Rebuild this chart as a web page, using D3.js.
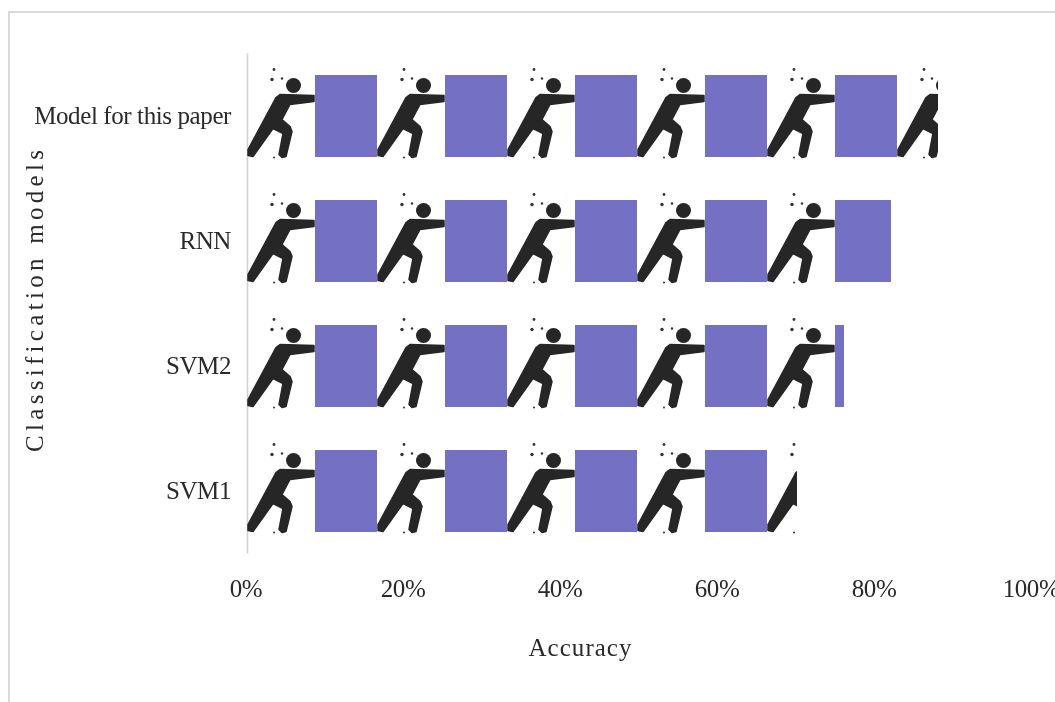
<!DOCTYPE html>
<html>
<head>
<meta charset="utf-8">
<script src="https://cdn.jsdelivr.net/npm/d3@7"></script>
<style>
  html, body { margin: 0; padding: 0; background: #fff; overflow: hidden; }
  svg { display: block; }
  text { font-family: "Liberation Serif", serif; fill: #2a2a2a; }
  .tick text { font-size: 25px; letter-spacing: -0.4px; }
  .axis-title { font-size: 25px; }
</style>
</head>
<body>
<div id="chart"></div>
<script>
const models = ["Model for this paper", "RNN", "SVM2", "SVM1"];
const accuracy = [88, 82, 76, 70];
const xTicks = [0, 20, 40, 60, 80, 100];
// one pictogram (pusher + box) stands for this many percent
const UNIT = 16.56;

const width = 1055, height = 702;
const x = d3.scaleLinear([0, 100], [247, 1032]);
const y = d3.scaleBand(models, [53, 553]);

const svg = d3.select("#chart").append("svg")
  .attr("width", width).attr("height", height)
  .attr("viewBox", `0 0 ${width} ${height}`);

// Outer chart frame, open at the right and bottom like the cropped source.
svg.append("path")
  .attr("d", `M9,${height}V12H${width}`)
  .attr("fill", "none").attr("stroke", "#d9d9d9").attr("stroke-width", 2);

const root = svg.append("g").style("filter", "blur(0.6px)");

// Axes
const yAxis = root.append("g").attr("transform", `translate(${x(0)},0)`)
  .call(d3.axisLeft(y).tickSize(0).tickPadding(16));
yAxis.select(".domain").attr("stroke", "#d0d0d0").attr("stroke-width", 1.5);

const xAxis = root.append("g").attr("transform", `translate(0,${y.range()[1]})`)
  .call(d3.axisBottom(x).tickValues(xTicks).tickSize(0).tickPadding(26).tickFormat((d) => `${d}%`));
xAxis.select(".domain").remove();
xAxis.selectAll("text").attr("dx", -1.5);

// Pictogram glyph, drawn relative to the row centre at the unit's left edge.
const PERSON = "M67,-20L33,-21L29,-18L1,34L1,40L6,41L26,13L36,18L32,39L35,42L39,41L45,16L43,11L35,4L43,-11L67,-14Z";
const DROPS = [[27, -46, 1.4], [25, -36, 1.7], [35, -37, 1.2], [27, 42, 1]];

const defs = svg.append("defs");
const rows = root.selectAll("g.row").data(models).join("g")
  .attr("class", "row")
  .attr("clip-path", (d, i) => `url(#clip-${i})`);

models.forEach((m, i) => {
  defs.append("clipPath").attr("id", `clip-${i}`).append("rect")
    .attr("x", x(0)).attr("y", y(m) - 2)
    .attr("width", x(accuracy[i]) - x(0)).attr("height", y.bandwidth() + 4);
});

const units = rows.selectAll("g.unit")
  .data((d, i) => d3.range(Math.ceil(accuracy[i] / UNIT)).map((k) => ({ model: d, k })))
  .join("g")
  .attr("class", "unit")
  .attr("transform", (d) => `translate(${x(d.k * UNIT)},${y(d.model) + y.bandwidth() / 2})`);

units.append("rect")
  .attr("x", 68).attr("y", -40.5).attr("width", 62).attr("height", 82)
  .attr("fill", "#7470c4");
units.append("path")
  .attr("d", PERSON)
  .attr("fill", "#262626").attr("stroke", "#262626").attr("stroke-width", 1.5).attr("stroke-linejoin", "round");
units.append("circle")
  .attr("cx", 46.5).attr("cy", -30).attr("r", 7.5).attr("fill", "#262626");
units.selectAll("circle.drop").data(DROPS).join("circle")
  .attr("class", "drop")
  .attr("cx", (d) => d[0]).attr("cy", (d) => d[1]).attr("r", (d) => d[2])
  .attr("fill", "#333");

// Axis titles
root.append("text").attr("class", "axis-title").attr("text-anchor", "middle")
  .attr("x", 580).attr("y", 656)
  .attr("textLength", 103).attr("lengthAdjust", "spacing")
  .text("Accuracy");
root.append("text").attr("class", "axis-title").attr("text-anchor", "middle")
  .attr("transform", "translate(43,301) rotate(-90)")
  .attr("textLength", 302).attr("lengthAdjust", "spacing")
  .text("Classification models");
</script>
</body>
</html>
